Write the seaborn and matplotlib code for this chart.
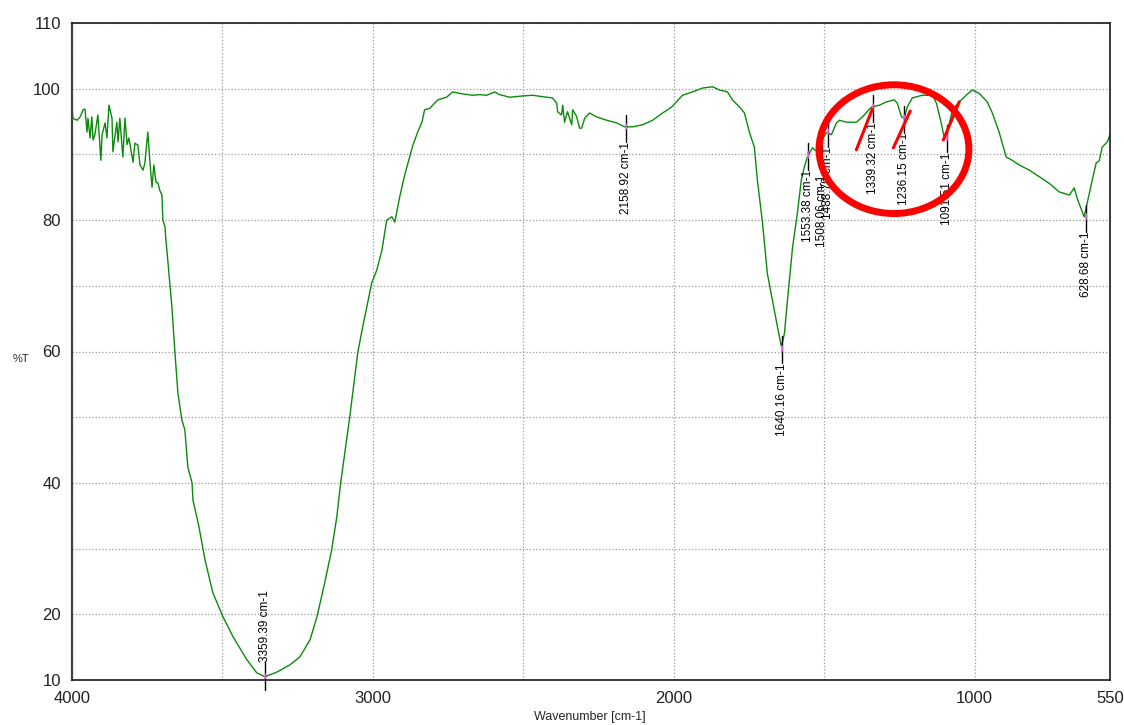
import numpy as np
import pandas as pd
import matplotlib
matplotlib.use("Agg")
import matplotlib.pyplot as plt
from matplotlib.patches import Ellipse
import seaborn as sns

# Espectro FTIR (numero de onda em cm-1, %T)
wavenumber = [
    4000, 3997, 3983, 3973, 3963, 3957, 3950, 3947, 3940, 3934, 3930, 3924,
    3914, 3904, 3900, 3890, 3884, 3877, 3867, 3864, 3851, 3847, 3841, 3831,
    3824, 3817, 3811, 3797, 3791, 3781, 3774, 3764, 3758, 3748, 3741, 3734,
    3728, 3721, 3714, 3708, 3701, 3698, 3691, 3688, 3685, 3675, 3668, 3658,
    3648, 3635, 3625, 3615, 3601, 3598, 3578, 3558, 3532, 3498, 3465, 3419,
    3386, 3359, 3319, 3276, 3243, 3209, 3186, 3160, 3137, 3120, 3107, 3077,
    3050, 3034, 3020, 3004, 2987, 2970, 2954, 2937, 2927, 2911, 2894, 2874,
    2867, 2851, 2837, 2828, 2811, 2801, 2784, 2755, 2735, 2701, 2668, 2645,
    2622, 2595, 2579, 2545, 2502, 2469, 2422, 2403, 2389, 2386, 2373, 2369,
    2363, 2353, 2339, 2336, 2323, 2313, 2306, 2296, 2280, 2256, 2223, 2190,
    2163, 2137, 2104, 2070, 2037, 2007, 1971, 1938, 1904, 1871, 1848, 1821,
    1805, 1781, 1765, 1748, 1732, 1722, 1705, 1689, 1672, 1655, 1642, 1632,
    1622, 1605, 1589, 1576, 1566, 1556, 1539, 1526, 1509, 1493, 1476, 1459,
    1449, 1426, 1393, 1373, 1343, 1316, 1293, 1267, 1257, 1243, 1234, 1224,
    1207, 1174, 1140, 1127, 1111, 1101, 1091, 1074, 1051, 1028, 1008, 985,
    958, 941, 918, 895, 875, 852, 818, 785, 752, 719, 685, 669,
    659, 636, 626, 609, 596, 586, 576, 559, 550,
]
transmittance = [
    97.5, 95.5, 95.2, 95.7, 96.8, 96.9, 93.4, 95.5, 92.5, 95.7, 92.2, 93.0,
    96.0, 89.1, 93.0, 94.8, 92.5, 97.5, 95.5, 90.4, 94.9, 91.9, 95.5, 89.6,
    95.5, 91.5, 92.5, 88.8, 91.7, 91.4, 88.4, 87.6, 88.6, 93.4, 88.8, 85.0,
    88.4, 85.8, 85.6, 84.5, 83.8, 80.0, 79.0, 77.0, 75.6, 70.4, 66.8, 59.9,
    53.7, 49.6, 48.1, 42.4, 40.0, 37.4, 33.3, 28.3, 23.3, 19.6, 16.6, 13.1,
    11.1, 10.5, 11.2, 12.3, 13.5, 16.1, 19.6, 24.8, 29.8, 34.8, 40.0, 50.0,
    59.9, 63.7, 66.8, 70.4, 72.4, 75.4, 80.0, 80.5, 79.7, 83.5, 86.9, 90.2,
    91.4, 93.4, 94.9, 96.8, 97.0, 97.5, 98.3, 98.7, 99.5, 99.2, 99.0, 99.1,
    99.0, 99.5, 99.1, 98.7, 98.9, 99.0, 98.7, 98.6, 97.8, 96.5, 96.0, 97.5,
    94.9, 96.5, 94.5, 96.8, 95.8, 94.0, 94.0, 95.5, 96.3, 95.7, 95.2, 94.8,
    94.2, 94.2, 94.5, 95.2, 96.3, 97.2, 99.0, 99.5, 100.1, 100.3, 99.8, 99.5,
    98.3, 97.2, 96.3, 93.3, 91.1, 86.1, 79.6, 71.9, 67.8, 63.7, 60.7, 62.8,
    67.8, 75.9, 81.1, 86.1, 88.1, 89.6, 91.0, 90.5, 92.0, 93.3, 93.0, 94.8,
    95.2, 94.9, 94.9, 95.7, 97.2, 97.5, 98.0, 98.3, 97.8, 95.7, 95.5, 97.2,
    98.6, 99.0, 99.0, 97.8, 94.8, 92.5, 93.2, 96.8, 98.0, 99.0, 99.8, 99.3,
    98.0, 96.3, 93.3, 89.6, 89.1, 88.4, 87.6, 86.6, 85.6, 84.3, 83.8, 84.9,
    83.3, 80.5, 82.6, 86.1, 88.7, 89.0, 91.1, 91.9, 93.0,
]

# Picos marcados
peak_wn = [3359.39, 2158.92, 1640.16, 1553.38, 1508.06, 1488.78,
           1339.32, 1236.15, 1091.51, 628.68]
peak_t = [10.5, 94.2, 60.5, 89.9, 91.9, 93.5, 97.2, 95.6, 92.6, 80.5]

x_major = [4000, 3000, 2000, 1000, 550]
x_minor = [3500, 2500, 1500]
y_major = [10, 20, 40, 60, 80, 100, 110]
y_minor = [30, 50, 70, 90]

df = pd.DataFrame({"wn": wavenumber, "T": transmittance})

sns.set_style("white")
plt.rcParams["font.family"] = ["Liberation Sans", "DejaVu Sans"]

fig = plt.figure(figsize=(11.24, 7.25), dpi=100)
ax = fig.add_axes([72 / 1124, 1 - 680 / 725, 1038 / 1124, 657 / 725])

sns.lineplot(data=df, x="wn", y="T", ax=ax, color="#0b8a0b", lw=1.0,
             estimator=None, sort=False)

ax.set_xlim(4000, 550)
ax.set_ylim(10, 110)
ax.set_xticks(x_major)
ax.set_xticks(x_minor, minor=True)
ax.set_yticks(y_major)
ax.set_yticks(y_minor, minor=True)
ax.set_xticklabels([str(v) for v in x_major])
ax.set_yticklabels([str(v) for v in y_major])
ax.tick_params(which="major", direction="in", length=7, width=1.1,
               labelsize=12, colors="#222222", pad=8)
ax.tick_params(which="minor", direction="in", length=3.5, width=1.1,
               colors="#222222")
ax.set_xlabel("")
ax.set_ylabel("")
ax.grid(which="both", ls=":", color="#9a9a9a", lw=0.9)

for s in ax.spines.values():
    s.set_color("#1a1a1a")
    s.set_linewidth(1.2)
ax.spines["left"].set_color("#444444")
ax.spines["left"].set_linewidth(1.6)

# rotulos dos picos
for w, t in zip(peak_wn, peak_t):
    label = f"{w:.2f} cm-1"
    if t < 20:
        ax.plot([w, w], [t - 2.0, t + 2.3], color="black", lw=1.0, clip_on=False)
        ax.text(w, t + 2.3, label, rotation=90, ha="center", va="bottom",
                fontsize=8.5, color="black")
    else:
        top = t - 2.3
        if w == 1508.06:
            top = t - 5.0
        ax.plot([w, w], [t + 1.8, top], color="black", lw=1.0)
        ax.text(w, top, label, rotation=90, ha="center", va="top",
                fontsize=8.5, color="black")
    ax.plot([w, w], [t - 0.4, t + 0.4], color="#ff66ff", lw=1.2)

# anotacao em vermelho
ax.add_patch(Ellipse((1268, 90.8), width=498, height=19.6, fill=False,
                     ec="#ff0000", lw=5, zorder=5))
red_lines = [((1393, 1340), (90.7, 96.9)),
             ((1270, 1214), (91.0, 96.6)),
             ((1104, 1051), (92.2, 98.0))]
for xs, ys in red_lines:
    ax.plot(xs, ys, color="#ff0000", lw=2.2, zorder=5)

fig.text(21 / 1124, 1 - 359 / 725, "%T", fontsize=8, ha="center", va="center")
fig.text(590 / 1124, 1 - 717 / 725, "Wavenumber [cm-1]", fontsize=9,
         ha="center", va="center")

fig.savefig("out.png", dpi=100)
